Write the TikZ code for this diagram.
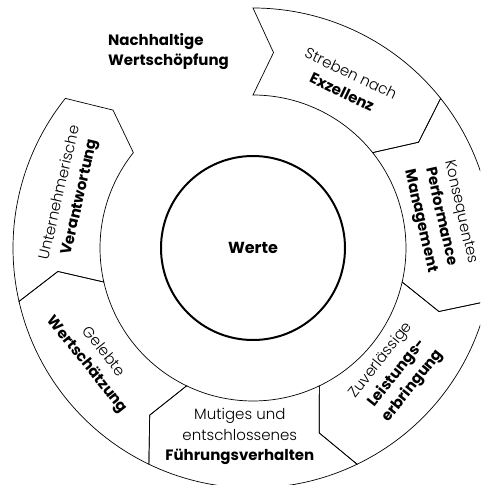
\documentclass[tikz,border=0pt]{standalone}
\usepackage{fontspec}
\setmainfont{Poppins Light}[BoldFont={Poppins Bold}]
\usetikzlibrary{positioning}

\begin{document}
\begin{tikzpicture}[x=1pt, y=1pt,
  seg/.style={draw, line width=0.7pt, line join=miter},
  lbl/.style={align=center, font=\fontsize{15}{20.5}\selectfont, inner sep=0pt},
  core/.style={draw, circle, line width=2pt, minimum size=184pt, inner sep=0pt,
               font=\fontsize{16}{18}\selectfont\bfseries}]
  \useasboundingbox (-253,-237) rectangle (227,248);
  \clip (-253,-237) rectangle (227,248);
  % ring of six arrows, the slot at the top left stays open
  \foreach \a in {90,38.57,-12.86,-64.29,-115.71,-167.14}
    \draw[seg] (\a:240) arc[start angle=\a, end angle=\a-51.43, radius=240]
      -- ({\a-57.43}:196.5) -- ({\a-51.43}:153)
      arc[start angle=\a-51.43, end angle=\a, radius=153]
      -- ({\a-6}:196.5) -- cycle;
  % centre
  \node[core] (werte) at (0,0) {Werte};
  % labels on the ring
  \node[lbl, rotate=-25.7] (streben)  at (60.5:190)  {Streben nach\\\textbf{Exzellenz}};
  \node[lbl, rotate=-77.1] (konseq)   at (9.5:190)   {Konsequentes\\\textbf{Performance}\\\textbf{Management}};
  \node[lbl, rotate=51.4]  (zuverl)   at (-41:191)   {Zuverlässige\\\textbf{Leistungs-}\\\textbf{erbringung}};
  \node[lbl]               (mutig)    at (-94:189)   {Mutiges und\\entschlossenes\\\textbf{Führungsverhalten}};
  \node[lbl, rotate=-51.4] (gelebt)   at (-145:193)  {Gelebte\\\textbf{Wertschätzung}};
  \node[lbl, rotate=77.1]  (untern)   at (163.8:190) {Unternehmerische\\\textbf{Verantwortung}};
  % title in the open slot
  \node[anchor=west, align=left, inner sep=0pt, font=\fontsize{15}{20}\selectfont\bfseries]
    (nachhalt) at (-145,196) {Nachhaltige\\Wertschöpfung};
\end{tikzpicture}
\end{document}
